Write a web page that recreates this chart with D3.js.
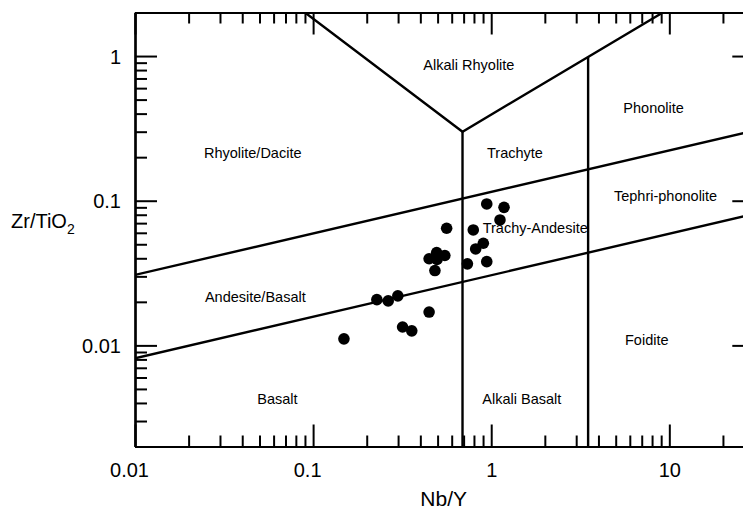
<!DOCTYPE html>
<html><head><meta charset="utf-8">
<script src="https://cdn.jsdelivr.net/npm/d3@7"></script>
<style>
body{margin:0;background:#fff}
svg{display:block}
text{font-family:"Liberation Sans",Arial,Helvetica,sans-serif;fill:#000}
</style>
</head><body>
<svg id="chart" width="743" height="509"></svg>
<script>
// ---- data ----
const nbY  = [0.944,1.18,1.12,0.562,0.793,0.903,0.818,0.944,0.735,0.494,0.549,0.448,0.496,0.483,0.149,0.228,0.264,0.299,0.448,0.318,0.358];
const zrTi = [0.095,0.090,0.0736,0.0645,0.0628,0.0508,0.0464,0.0379,0.0366,0.0438,0.0418,0.0397,0.0393,0.0329,0.0111,0.0207,0.0203,0.0220,0.0170,0.0134,0.0126];

const xTickValues = [0.01,0.1,1,10];
const xTickLabels = ["0.01","0.1","1","10"];
const yTickValues = [0.01,0.1,1];
const yTickLabels = ["0.01","0.1","1"];

// field boundaries (Nb/Y, Zr/TiO2)
const boundaryUpper = [[0.01,0.0307],[30,0.305]];
const boundaryLower = [[0.01,0.00815],[30,0.081]];
const boundaryV     = [[0.09,2],[0.69,0.3],[9.2,2]];
const boundaryV1    = [[0.69,0.002],[0.69,0.3]];
const boundaryV2    = [[3.5,0.002],[3.5,0.984]];

const fieldNames = ["Alkali Rhyolite","Rhyolite/Dacite","Trachyte","Phonolite","Tephri-phonolite","Trachy-Andesite","Andesite/Basalt","Foidite","Basalt","Alkali Basalt"];
const fieldNbY   = [0.416,0.0244,0.947,5.52,4.89,0.896,0.0247,5.64,0.0486,0.891];
const fieldZrTi  = [0.863,0.213,0.213,0.435,0.1077,0.0649,0.0217,0.01083,0.00427,0.00428];

const xTitle = "Nb/Y";
const yTitleMain = "Zr/TiO";
const yTitleSub = "2";

// ---- layout ----
const L = 135, R = 754.3, T = 12.5, B = 446.5;
const svg = d3.select("#chart");
const x = d3.scaleLog().domain([0.01,30]).range([L,R]);
const y = d3.scaleLog().domain([0.002,2]).range([B,T]);

const isMajor = v => Math.abs(Math.log10(v) - Math.round(Math.log10(v))) < 1e-9;
const xMinor = x.ticks().filter(v => !isMajor(v));
const yMinor = y.ticks().filter(v => !isMajor(v));

function styleAxis(g){
  g.selectAll("path.domain").attr("stroke","#000").attr("stroke-width",2.2);
  g.selectAll(".tick line").attr("stroke","#000").attr("stroke-width",2);
}

svg.append("clipPath").attr("id","clip").append("rect")
  .attr("x",L).attr("y",T).attr("width",R-L).attr("height",B-T);

// boundaries
const line = d3.line().x(d=>x(d[0])).y(d=>y(d[1]));
const gB = svg.append("g").attr("clip-path","url(#clip)");
[boundaryUpper,boundaryLower,boundaryV,boundaryV1,boundaryV2].forEach(b=>{
  gB.append("path").attr("d",line(b)).attr("fill","none")
    .attr("stroke","#000").attr("stroke-width",2.4).attr("stroke-linejoin","miter");
});

// axes: bottom
svg.append("g").attr("transform",`translate(0,${B})`)
  .call(d3.axisBottom(x).tickValues(xMinor).tickSize(-11).tickSizeOuter(0).tickFormat(""))
  .call(styleAxis);
const gxb = svg.append("g").attr("transform",`translate(0,${B})`)
  .call(d3.axisBottom(x).tickValues(xTickValues).tickSize(-22).tickSizeOuter(0).tickPadding(16)
    .tickFormat((d,i)=>xTickLabels[i]))
  .call(styleAxis);
gxb.selectAll("text").attr("font-size",20).attr("dx",d=>d<1?-6:0)
  .style("font-family",'"Liberation Sans",Arial,sans-serif');
// top
svg.append("g").attr("transform",`translate(0,${T})`)
  .call(d3.axisTop(x).tickValues(xMinor).tickSize(-11).tickSizeOuter(0).tickFormat(""))
  .call(styleAxis);
svg.append("g").attr("transform",`translate(0,${T})`)
  .call(d3.axisTop(x).tickValues(xTickValues).tickSize(-22).tickSizeOuter(0).tickFormat(""))
  .call(styleAxis);
// left
svg.append("g").attr("transform",`translate(${L},0)`)
  .call(d3.axisLeft(y).tickValues(yMinor).tickSize(-12).tickSizeOuter(0).tickFormat(""))
  .call(styleAxis);
const gyl = svg.append("g").attr("transform",`translate(${L},0)`)
  .call(d3.axisLeft(y).tickValues(yTickValues).tickSize(-22).tickSizeOuter(0).tickPadding(14)
    .tickFormat((d,i)=>yTickLabels[i]))
  .call(styleAxis);
gyl.selectAll("text").attr("font-size",20).attr("dy","0.36em")
  .style("font-family",'"Liberation Sans",Arial,sans-serif');
// right
svg.append("g").attr("transform",`translate(${R},0)`)
  .call(d3.axisRight(y).tickValues(yMinor).tickSize(-11).tickSizeOuter(0).tickFormat(""))
  .call(styleAxis);
svg.append("g").attr("transform",`translate(${R},0)`)
  .call(d3.axisRight(y).tickValues(yTickValues).tickSize(-22).tickSizeOuter(0).tickFormat(""))
  .call(styleAxis);

// field labels
svg.append("g").selectAll("text").data(fieldNames).join("text")
  .attr("x",(d,i)=>x(fieldNbY[i])).attr("y",(d,i)=>y(fieldZrTi[i]))
  .attr("dy","0.35em").attr("font-size",14.5).text(d=>d);

// points
svg.append("g").selectAll("circle").data(nbY).join("circle")
  .attr("cx",d=>x(d)).attr("cy",(d,i)=>y(zrTi[i])).attr("r",5.8).attr("fill","#000");

// titles
svg.append("text").attr("x",443.7).attr("y",506).attr("text-anchor","middle")
  .attr("font-size",21).text(xTitle);
const yt = svg.append("text").attr("x",11).attr("y",228).attr("font-size",20);
yt.append("tspan").text(yTitleMain);
yt.append("tspan").attr("font-size",14).attr("dy",6).text(yTitleSub);
</script>
</body></html>
